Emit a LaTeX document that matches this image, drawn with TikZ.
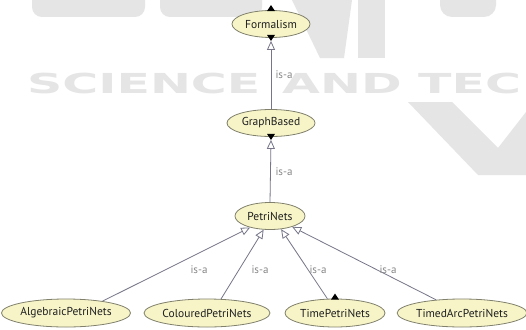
\documentclass[tikz,border=0pt]{standalone}
\usepackage{fontspec}
\setmainfont{PT Sans}
\newfontfamily\wmfont{DejaVu Sans}
\usetikzlibrary{arrows.meta,shapes.geometric}

\definecolor{classfill}{RGB}{247,245,200}
\definecolor{classdraw}{RGB}{128,128,108}
\definecolor{edgecol}{RGB}{118,118,136}
\definecolor{labelcol}{RGB}{135,135,135}
\definecolor{textcol}{RGB}{30,30,30}
\definecolor{wmcol}{RGB}{229,229,229}

\tikzset{
  cls/.style={ellipse, draw=classdraw, fill=classfill, line width=0.8pt,
    inner sep=0pt, text=textcol, font=\fontsize{11.5}{13}\selectfont},
  isa/.style={draw=edgecol, line width=0.8pt,
    -{Triangle[open, length=9pt, width=8pt, line width=0.8pt]}},
  isalabel/.style={text=labelcol, font=\fontsize{11}{13}\selectfont, inner sep=0pt},
  wm/.style={text=wmcol, inner sep=0pt, font=\wmfont\bfseries\fontsize{27.5}{30}\selectfont},
  expander/.style={fill=black}
}

\begin{document}
\begin{tikzpicture}[x=1pt, y=-1pt]
  \useasboundingbox (0,0) rectangle (526,329);
  \fill[white] (0,0) rectangle (526,329);

  % faint publisher watermark behind the graph
  \begin{scope}
    \clip (0,0) rectangle (526,329);
    \fill[wmcol, rounded corners=10pt] (32,-30) rectangle (145,17);
    \fill[wmcol, rounded corners=10pt] (160,-30) rectangle (262,17);
    \fill[wmcol] (292,0) -- (352,0) -- (344,58) -- (320,58) -- cycle;
    \fill[wmcol] (358,0) rectangle (385,58);
    \fill[wmcol, rounded corners=12pt] (440,-30) rectangle (496,17);
    \fill[wmcol] (408,102) -- (452,102) -- (498,148) -- (526,112)
      -- (526,175) -- (478,175) -- cycle;
    \node[wm, anchor=west] (wmscience) at (27,83) {\scalebox{1.78}[1]{SCIENCE}};
    \node[wm, anchor=west] (wmand) at (282,83) {\scalebox{1.78}[1]{AND}};
    \node[wm, anchor=west] (wmtech) at (418,83) {\scalebox{1.78}[1]{TEC}};
  \end{scope}

  % classes
  \node[cls, minimum width=78pt, minimum height=27pt] (formalism) at (271,24) {Formalism};
  \node[cls, minimum width=88pt, minimum height=27pt] (graph) at (271,123) {GraphBased};
  \node[cls, minimum width=70pt, minimum height=27pt] (petri) at (270,216) {PetriNets};
  \node[cls, minimum width=118pt, minimum height=28pt] (alg) at (66,313) {AlgebraicPetriNets};
  \node[cls, minimum width=118pt, minimum height=28pt] (col) at (207,313) {ColouredPetriNets};
  \node[cls, minimum width=100pt, minimum height=28pt] (time) at (335,313) {TimePetriNets};
  \node[cls, minimum width=122pt, minimum height=28pt] (timedarc) at (462,313) {TimedArcPetriNets};

  % is-a links (the vertical ones stop at the tip of the collapse marker)
  \draw[isa] (graph.north) -- ([yshift=-3pt]formalism.south);
  \draw[isa] (petri.north) -- ([yshift=-3pt]graph.south);
  \draw[isa] (alg.18) -- (petri.210);
  \draw[isa] (col.45) -- (petri.245);
  \draw[isa] (time.118) -- (petri.310);
  \draw[isa] (timedarc.153) -- (petri.334);

  \node[isalabel] (l1) at (284,75) {is-a};
  \node[isalabel] (l2) at (284,172) {is-a};
  \node[isalabel] (l3) at (199,270) {is-a};
  \node[isalabel] (l4) at (260,270) {is-a};
  \node[isalabel] (l5) at (318,270) {is-a};
  \node[isalabel] (l6) at (388,270) {is-a};

  % expand / collapse markers
  \fill[expander] ([yshift=-1pt]formalism.north) ++(-4,0) -- ++(8,0) -- ++(-4,-6) -- cycle;
  \fill[expander] ([yshift=3pt]formalism.south) ++(-4,0) -- ++(8,0) -- ++(-4,6) -- cycle;
  \fill[expander] ([yshift=3pt]graph.south) ++(-4,0) -- ++(8,0) -- ++(-4,6) -- cycle;
  \fill[expander] ([yshift=-1pt]time.north) ++(-4,0) -- ++(8,0) -- ++(-4,-6) -- cycle;
\end{tikzpicture}
\end{document}
